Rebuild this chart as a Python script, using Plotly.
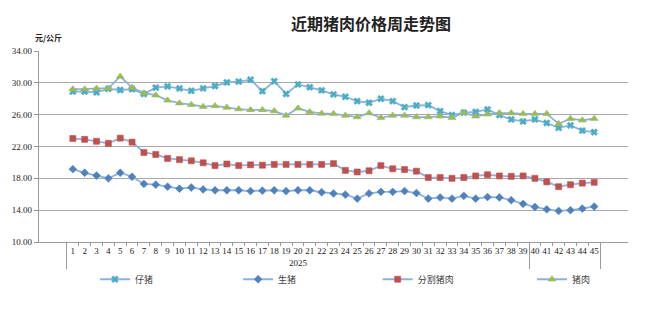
import plotly.graph_objects as go

# Weekly pig and pork prices (yuan/kg), weeks 1-45 of 2025
weeks = [str(i) for i in range(1, 46)]
year_group = ["2025"] * 39 + [" "] * 6

piglet = [28.9, 28.9, 28.8, 29.25, 29.1, 29.2, 28.6, 29.4, 29.55, 29.3,
          29.0, 29.3, 29.6, 30.05, 30.15, 30.4, 28.95, 30.2, 28.6, 29.8,
          29.45, 29.05, 28.55, 28.25, 27.7, 27.5, 28.0, 27.7, 26.95, 27.15,
          27.2, 26.45, 25.95, 26.25, 26.35, 26.65, 25.95, 25.4, 25.15, 25.4,
          24.95, 24.35, 24.65, 24.0, 23.8]

live_hog = [19.15, 18.7, 18.35, 18.0, 18.7, 18.2, 17.3, 17.2, 16.95, 16.7,
            16.85, 16.6, 16.5, 16.5, 16.5, 16.4, 16.45, 16.5, 16.4, 16.5,
            16.5, 16.25, 16.1, 15.95, 15.45, 16.1, 16.3, 16.3, 16.4, 16.15,
            15.45, 15.6, 15.45, 15.8, 15.45, 15.65, 15.6, 15.25, 14.8, 14.4,
            14.1, 13.9, 14.0, 14.2, 14.45]

cut_pork = [23.0, 22.9, 22.65, 22.4, 23.05, 22.55, 21.25, 21.0, 20.5, 20.35,
            20.2, 19.95, 19.6, 19.8, 19.6, 19.7, 19.65, 19.75, 19.75, 19.75,
            19.75, 19.75, 19.85, 19.0, 18.8, 18.95, 19.6, 19.2, 19.1, 18.9,
            18.1, 18.1, 18.0, 18.1, 18.3, 18.45, 18.3, 18.25, 18.3, 18.0,
            17.55, 16.95, 17.2, 17.4, 17.5]

pork = [29.2, 29.2, 29.3, 29.3, 30.8, 29.4, 28.7, 28.45, 27.8, 27.45,
        27.25, 27.0, 27.1, 26.9, 26.7, 26.6, 26.6, 26.45, 25.9, 26.8,
        26.35, 26.15, 26.1, 25.9, 25.7, 26.2, 25.6, 25.9, 25.9, 25.7,
        25.7, 25.8, 25.6, 26.25, 25.8, 26.05, 26.2, 26.2, 26.1, 26.1,
        26.1, 24.85, 25.5, 25.3, 25.5]

y_ticks = [10, 14, 18, 22, 26, 30, 34]

LINE = "#8DB0DC"
# name, values, marker colour, marker symbol, marker size, legend id, legend x
series = [
    ("仔猪", piglet, "#4BACC6", "x", 6, "legend", 0.095),
    ("生猪", live_hog, "#4F81BD", "diamond", 6, "legend2", 0.338),
    ("分割猪肉", cut_pork, "#C0504D", "square", 6, "legend3", 0.575),
    ("猪肉", pork, "#9BBB59", "triangle-up", 7, "legend4", 0.837),
]

x = [year_group, weeks]

serif = "Liberation Serif, Times New Roman, serif"
cjk = "Noto Sans CJK SC, sans-serif"

fig = go.Figure()
legends = {}
for name, vals, color, symbol, size, leg, lx in series:
    fig.add_trace(go.Scatter(
        x=x, y=vals, name=name, mode="lines+markers", legend=leg,
        line=dict(color=LINE, width=1.8),
        marker=dict(symbol=symbol, color=color, size=size,
                    line=dict(width=0.6, color=color)),
    ))
    legends[leg] = dict(orientation="h", x=lx, xanchor="left",
                        y=-0.195, yanchor="middle", itemwidth=30,
                        font=dict(family=cjk, size=9, color="#404040"),
                        bgcolor="rgba(0,0,0,0)")

fig.update_layout(
    width=651, height=326,
    margin=dict(l=30, r=23, t=51, b=84),
    paper_bgcolor="white", plot_bgcolor="white",
    showlegend=True,
    title=dict(text="近期猪肉价格周走势图", x=0.57, xanchor="center",
               y=0.925, yanchor="middle",
               font=dict(family=cjk, size=16, color="#222222", weight="bold")),
    xaxis=dict(type="multicategory", showgrid=False,
               showline=True, linecolor="#9A9A9A", linewidth=1.2,
               ticks="outside", ticklen=3, tickcolor="#9A9A9A",
               tickson="boundaries", tickangle=0, dtick=1,
               showdividers=True, dividercolor="#9A9A9A", dividerwidth=1,
               tickfont=dict(family=serif, size=9, color="#222222")),
    yaxis=dict(range=[10, 34], tickvals=y_ticks, tickformat=".2f",
               showgrid=True, gridcolor="#A8A8A8", gridwidth=1.3,
               showline=True, linecolor="#9A9A9A", linewidth=1.2,
               ticks="outside", ticklen=4, tickcolor="#9A9A9A",
               zeroline=False,
               tickfont=dict(family=serif, size=9, color="#222222")),
    **legends,
)

fig.add_annotation(text="<b>元/公斤</b>", xref="paper", yref="paper",
                   x=-0.01, y=1.07, xanchor="left", yanchor="middle",
                   showarrow=False,
                   font=dict(family=cjk, size=8, color="#222222"))

fig.write_html("out.html")
